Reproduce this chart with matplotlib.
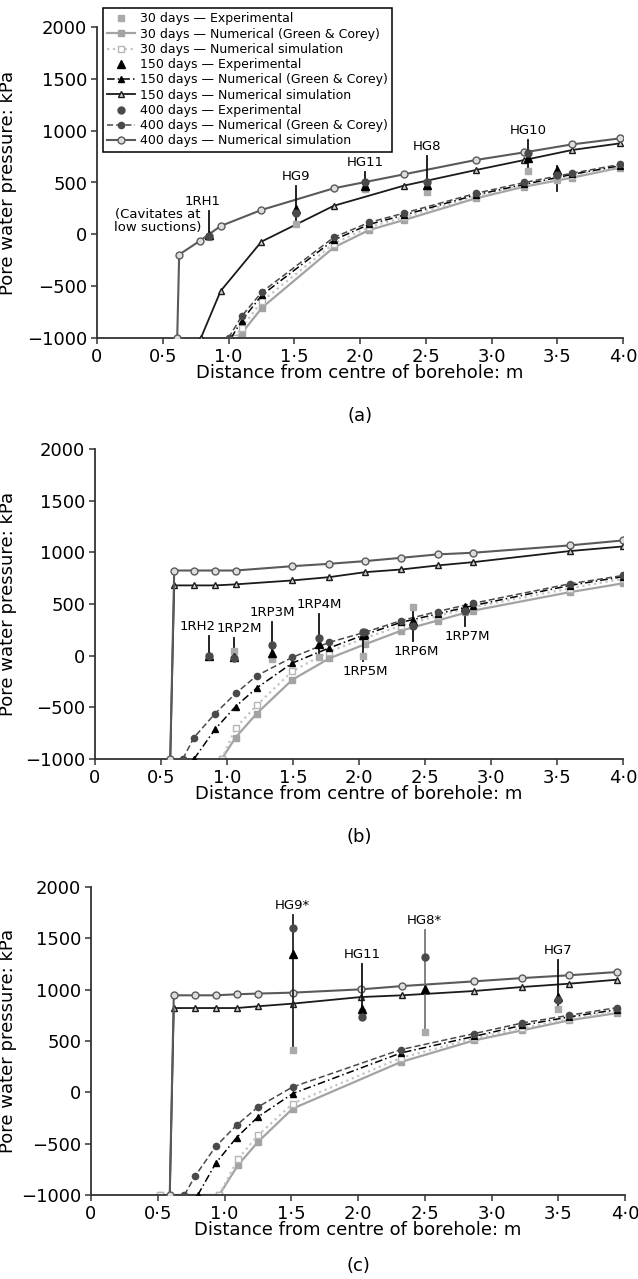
import numpy as np
import matplotlib
matplotlib.use("Agg")
import matplotlib.pyplot as plt
from matplotlib.ticker import FuncFormatter, MultipleLocator
from matplotlib.transforms import blended_transform_factory

plt.rcParams['font.family'] = ['DejaVu Sans']

# ---------------- panel (a) data ----------------
xa_400sim = [0.61, 0.625, 0.78, 0.94, 1.25, 1.80, 2.335, 2.88, 3.25, 3.615, 3.98]
ya_400sim = [-1000, -195, -65, 80, 235, 444, 579, 717, 791, 868, 926]
xa_150sim = [0.79, 0.94, 1.25, 1.80, 2.335, 2.88, 3.25, 3.615, 3.98]
ya_150sim = [-1000, -547, -71, 275, 470, 620, 717, 814, 878]
xa_num = [1.10, 1.255, 1.80, 2.07, 2.335, 2.88, 3.25, 3.615, 3.98]
ya_30gc = [-955, -707, -127, 42, 138, 347, 460, 547, 644]
ya_30sim = [-900, -645, -90, 70, 165, 365, 472, 565, 652]
ya_150gc = [-833, -585, -55, 96, 186, 380, 482, 579, 663]
ya_400gc = [-790, -555, -30, 115, 205, 395, 500, 590, 675]
start_a = [1.05, 1.02, 1.00]   # 30, 150, 400 curves leave -1000 kPa

sens_a = ['1RH1', 'HG9', 'HG11', 'HG8', 'HG10', '']
xs_a = [0.85, 1.51, 2.04, 2.51, 3.28, 3.50]
e30_a = [-30, 100, 440, 410, 610, 520]
e150_a = [-10, 240, 470, 480, 740, 620]
e400_a = [-20, 210, 500, 500, 780, 570]
top_a = [222, 463, 600, 753, 907, 656]
bot_a = [-30, 87, 430, 400, 610, 415]

# ---------------- panel (b) data ----------------
xb_sim = [0.57, 0.60, 0.75, 0.91, 1.065, 1.495, 1.775, 2.045, 2.32, 2.595, 2.865, 3.595, 4.0]
yb_400sim = [-1000, 824, 824, 824, 824, 866, 889, 915, 947, 980, 996, 1067, 1115]
yb_150sim = [-1000, 680, 680, 680, 690, 728, 760, 808, 834, 873, 905, 1012, 1057]
xb_400gc = [0.665, 0.75, 0.91, 1.065, 1.225, 1.495, 1.775, 2.045, 2.32, 2.595, 2.865, 3.595, 4.0]
yb_400gc = [-1000, -792, -560, -366, -194, -16, 129, 226, 340, 427, 507, 695, 776]
xb_150gc = [0.75, 0.91, 1.065, 1.225, 1.495, 1.775, 2.045, 2.32, 2.595, 2.865, 3.595, 4.0]
yb_150gc = [-1000, -711, -492, -313, -71, 75, 204, 323, 404, 485, 679, 765]
xb_30 = [0.96, 1.065, 1.225, 1.495, 1.775, 2.045, 2.32, 2.595, 2.865, 3.595, 4.0]
yb_30gc = [-1000, -792, -560, -233, -26, 110, 242, 340, 436, 614, 700]
yb_30sim = [-1000, -700, -480, -150, 40, 170, 290, 385, 470, 650, 745]

sens_b = ['1RH2', '1RP2M', '1RP3M', '1RP4M', '1RP5M', '1RP6M', '1RP7M']
xs_b = [0.86, 1.05, 1.34, 1.70, 2.03, 2.41, 2.80]
e30_b = [-5, 50, -30, -16, 0, 470, 420]
e150_b = [0, -10, 30, 116, 200, 340, 470]
e400_b = [0, -20, 100, 171, 226, 290, 436]
top_b = [194, 172, 323, 404, 226, 469, 485]
bot_b = [0, -30, -30, -16, -48, 145, 291]
below_b = [False, False, False, False, True, True, True]

# ---------------- panel (c) data ----------------
xc_sim = [0.59, 0.62, 0.78, 0.935, 1.09, 1.25, 1.51, 2.02, 2.33, 2.87, 3.23, 3.58, 3.94]
yc_400sim = [-1000, 945, 945, 945, 955, 962, 971, 1003, 1035, 1081, 1113, 1140, 1172]
yc_150sim = [-1000, 821, 821, 821, 821, 838, 864, 928, 945, 987, 1026, 1058, 1097]
xc_400gc = [0.70, 0.78, 0.935, 1.09, 1.25, 1.51, 2.32, 2.87, 3.23, 3.58, 3.94]
yc_400gc = [-1000, -815, -526, -321, -143, 52, 416, 572, 675, 750, 825]
xc_150gc = [0.80, 0.935, 1.09, 1.25, 1.51, 2.32, 2.87, 3.23, 3.58, 3.94]
yc_150gc = [-1000, -689, -441, -240, -13, 383, 545, 653, 734, 806]
xc_30 = [0.52, 0.96, 1.10, 1.25, 1.51, 2.32, 2.87, 3.23, 3.58, 3.94]
yc_30gc = [-1000, -1000, -711, -484, -159, 295, 506, 604, 701, 772]
yc_30sim = [-1000, -1000, -650, -420, -110, 335, 525, 625, 715, 790]

sens_c = ['HG9*', 'HG11', 'HG8*', 'HG7']
xs_c = [1.51, 2.03, 2.50, 3.50]
e30_c = [416, 780, 587, 815]
e150_c = [1351, 815, 1010, 928]
e400_c = [1604, 733, 1318, 896]
top_c = [1731, 1247, 1578, 1286]
bot_c = [416, 733, 587, 815]

# ---------------- styles ----------------
C30, C150, C400 = '#a3a3a3', '#000000', '#4a4a4a'
st_30exp = dict(ls='none', marker='s', ms=5, color='#aaaaaa')
st_30gc = dict(ls='-', lw=1.6, color=C30, marker='s', ms=4.5)
st_30sim = dict(ls=':', lw=1.6, color='#c4c4c4', marker='s', ms=4, mfc='white', mec='#b5b5b5')
st_150exp = dict(ls='none', marker='^', ms=5.5, color=C150)
st_150gc = dict(ls=(0, (5, 2, 1, 2)), lw=1.1, color=C150, marker='^', ms=4.5)
st_150sim = dict(ls='-', lw=1.3, color='#1a1a1a', marker='^', ms=4.5, mfc='#d0d0d0', mec='#1a1a1a')
st_400exp = dict(ls='none', marker='o', ms=5, color=C400)
st_400gc = dict(ls=(0, (4, 2)), lw=1.1, color=C400, marker='o', ms=4.5)
st_400sim = dict(ls='-', lw=1.5, color='#5a5a5a', marker='o', ms=5, mfc='#dddddd', mec='#5a5a5a')

FS = 13
fig = plt.figure(figsize=(6.38, 12.79), dpi=100)
W, H = 638.0, 1279.0


def make_ax(left, right, top, bottom):
    ax = fig.add_axes([left / W, 1 - bottom / H, (right - left) / W, (bottom - top) / H])
    ax.set_xlim(0, 4.0)
    ax.set_ylim(-1000, 2000)
    ax.xaxis.set_major_locator(MultipleLocator(0.5))
    ax.yaxis.set_major_locator(MultipleLocator(500))
    ax.xaxis.set_major_formatter(FuncFormatter(
        lambda v, p: '0' if abs(v) < 1e-9 else f'{v:.1f}'.replace('.', '\u00b7')))
    ax.yaxis.set_major_formatter(FuncFormatter(
        lambda v, p: f'\u2212{abs(int(v))}' if v < 0 else f'{int(v)}'))
    for s in ['top', 'right']:
        ax.spines[s].set_visible(False)
    for s in ['left', 'bottom']:
        ax.spines[s].set_linewidth(1.3)
        ax.spines[s].set_color('#333333')
    ax.tick_params(direction='out', length=4, width=1.1, labelsize=FS, color='#333333', pad=3)
    ax.set_ylabel('Pore water pressure: kPa', fontsize=FS)
    ax.yaxis.set_label_coords(17 / W, 0.5,
                              transform=blended_transform_factory(fig.transFigure, ax.transAxes))
    ax.set_xlabel('Distance from centre of borehole: m', fontsize=FS)
    ax.xaxis.set_label_coords(0.5, -0.085)
    return ax


def sensors(ax, names, xs, e30, e150, e400, tops, bots, below=None, lcols=None):
    for i, n in enumerate(names):
        col = '#111111' if lcols is None else lcols[i]
        ax.plot([xs[i], xs[i]], [bots[i], tops[i]], color=col, lw=1.3, zorder=4)
        ax.plot(xs[i], e30[i], zorder=5, **st_30exp)
        ax.plot(xs[i], e150[i], zorder=6, **st_150exp)
        ax.plot(xs[i], e400[i], zorder=6, **st_400exp)
        if n:
            if below is not None and below[i]:
                ax.text(xs[i] + 0.02, bots[i] - 40, n, ha='center', va='top', fontsize=9.5)
            else:
                ax.text(xs[i], tops[i] + 30, n, ha='center', va='bottom', fontsize=9.5)


# ---------------- (a) ----------------
ax = make_ax(97, 623, 27, 338)
ax.plot([start_a[0]] + xa_num, [-1000] + ya_30gc, zorder=2, **st_30gc)
ax.plot([start_a[0]] + xa_num, [-1000] + ya_30sim, zorder=2, **st_30sim)
ax.plot([start_a[1]] + xa_num, [-1000] + ya_150gc, zorder=3, **st_150gc)
ax.plot(xa_150sim, ya_150sim, zorder=3, **st_150sim)
ax.plot([start_a[2]] + xa_num, [-1000] + ya_400gc, zorder=3, **st_400gc)
ax.plot(xa_400sim, ya_400sim, zorder=3, **st_400sim)
sensors(ax, sens_a, xs_a, e30_a, e150_a, e400_a, top_a, bot_a)
# 1RH1 label sits left of its line
ax.texts[0].set_x(0.80)
ax.text(0.465, 125, '(Cavitates at\nlow suctions)', ha='center', va='center',
        fontsize=9.5, multialignment='center', linespacing=1.0)
ax.text(0.5, -0.25, '(a)', transform=ax.transAxes, ha='center', va='center', fontsize=FS)

handles = [
    ax.plot([], [], **st_30exp)[0], ax.plot([], [], **st_30gc)[0], ax.plot([], [], **st_30sim)[0],
    ax.plot([], [], **st_150exp)[0], ax.plot([], [], **st_150gc)[0], ax.plot([], [], **st_150sim)[0],
    ax.plot([], [], **st_400exp)[0], ax.plot([], [], **st_400gc)[0], ax.plot([], [], **st_400sim)[0],
]
labels = []
for d in ['30', '150', '400']:
    labels += [f'{d} days \u2014 Experimental',
               f'{d} days \u2014 Numerical (Green & Corey)',
               f'{d} days \u2014 Numerical simulation']
leg = ax.legend(handles, labels, loc='upper left', bbox_to_anchor=(103 / W, 1 - 8 / H),
                bbox_transform=fig.transFigure, borderaxespad=0, fontsize=9,
                labelspacing=0.18, handlelength=2.2, handletextpad=0.4,
                borderpad=0.35, fancybox=False, framealpha=1, edgecolor='black')
leg.get_frame().set_linewidth(1.1)

# ---------------- (b) ----------------
ax = make_ax(95, 623, 449, 759)
ax.plot(xb_30, yb_30gc, zorder=2, **st_30gc)
ax.plot(xb_30, yb_30sim, zorder=2, **st_30sim)
ax.plot(xb_150gc, yb_150gc, zorder=3, **st_150gc)
ax.plot(xb_sim, yb_150sim, zorder=3, **st_150sim)
ax.plot(xb_400gc, yb_400gc, zorder=3, **st_400gc)
ax.plot(xb_sim, yb_400sim, zorder=3, **st_400sim)
sensors(ax, sens_b, xs_b, e30_b, e150_b, e400_b, top_b, bot_b, below=below_b)
ax.texts[0].set_x(0.78)
ax.texts[1].set_x(1.09)
ax.text(0.5, -0.25, '(b)', transform=ax.transAxes, ha='center', va='center', fontsize=FS)

# ---------------- (c) ----------------
ax = make_ax(91, 625, 887, 1195)
ax.plot(xc_30, yc_30gc, zorder=2, **st_30gc)
ax.plot(xc_30, yc_30sim, zorder=2, **st_30sim)
ax.plot(xc_150gc, yc_150gc, zorder=3, **st_150gc)
ax.plot(xc_sim, yc_150sim, zorder=3, **st_150sim)
ax.plot(xc_400gc, yc_400gc, zorder=3, **st_400gc)
ax.plot(xc_sim, yc_400sim, zorder=3, **st_400sim)
sensors(ax, sens_c, xs_c, e30_c, e150_c, e400_c, top_c, bot_c,
        lcols=['#222222', '#111111', '#777777', '#111111'])
ax.text(0.5, -0.23, '(c)', transform=ax.transAxes, ha='center', va='center', fontsize=FS)

fig.savefig('out.png', dpi=100)
